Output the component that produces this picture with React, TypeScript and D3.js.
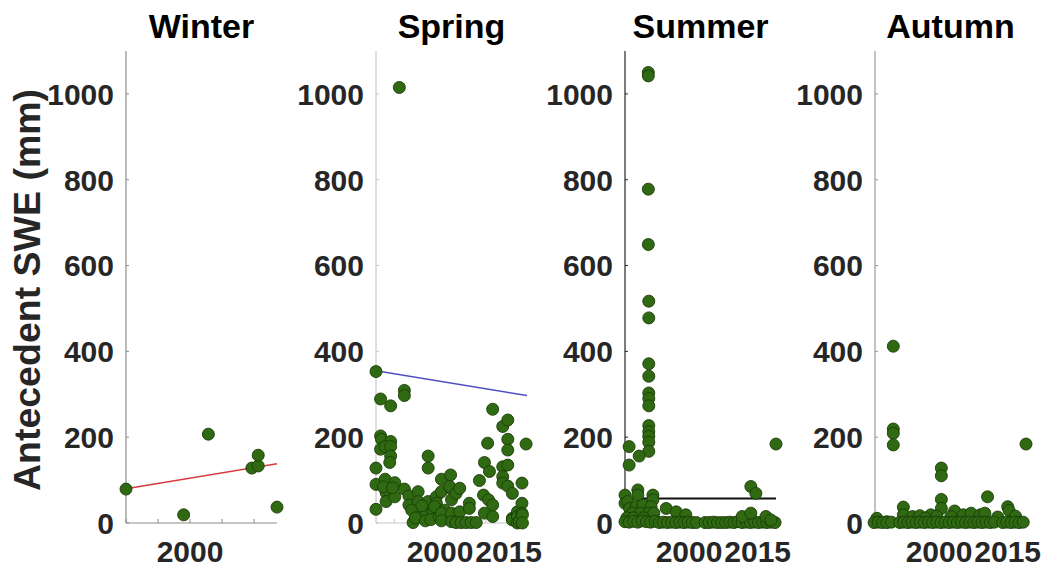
import React from 'react'
import * as d3 from 'd3'

// [year, antecedent SWE in mm]
const winterData: [number, number][] = [
  [1986.0, 79], [1998.6, 19], [2004.0, 207], [2013.5, 128], [2014.9, 133], [2014.9, 158], [2019.0, 37],
]
const winterTrend: [number, number][] = [[1986, 80], [2019, 138]]

const springData: [number, number][] = [
  [1986.0, 353], [1987.0, 289], [1989.2, 273], [1992.2, 309], [1992.2, 297], [1991.1, 1015],
  [1987.0, 203], [1987.2, 195], [1989.2, 190], [1987.0, 172], [1988.0, 178], [1989.2, 178], [1989.2, 156], [1989.0, 141],
  [1986.0, 128], [1986.0, 90], [1986.0, 32], [1988.0, 102], [1990.1, 94], [1988.2, 71], [1988.2, 50], [1990.1, 61],
  [1987.6, 84], [1989.6, 82], [1992.2, 79], [1993.2, 63], [1993.2, 42], [1995.2, 73], [1995.2, 50], [1995.2, 21],
  [1994.1, 1], [1996.3, 11], [1997.0, 23], [1997.4, 156], [1997.4, 128], [1997.4, 50], [1998.5, 26], [1999.2, 61], [1999.2, 46],
  [1993.8, 30], [1994.6, 12], [1996.0, 40], [1996.8, 5], [1998.0, 8], [1998.8, 38], [1999.8, 14], [2001.0, 30], [2001.6, 10],
  [2000.3, 102], [2000.3, 73], [2000.3, 23], [2000.3, 5], [2002.3, 112], [2002.3, 81], [2002.5, 54], [2002.5, 23], [2002.5, 3],
  [2002.1, 85], [2003.5, 69], [2004.3, 81], [2004.3, 26], [2006.4, 46], [2006.4, 34],
  [2003.5, 1], [2004.6, 1], [2005.7, 1], [2006.8, 1], [2007.9, 1],
  [2008.6, 99], [2009.7, 141], [2010.8, 120], [2010.4, 186], [2011.5, 265], [2009.5, 65], [2010.6, 54], [2011.5, 42], [2009.7, 23], [2011.5, 15],
  [2013.7, 225], [2014.8, 240], [2014.8, 195], [2014.8, 170], [2013.7, 131], [2014.8, 135], [2013.7, 108], [2013.7, 93], [2014.8, 86],
  [2015.8, 69], [2015.8, 11], [2015.8, 7], [2016.9, 26], [2016.9, 15], [2016.9, 0], [2017.3, 3],
  [2017.9, 93], [2017.9, 46], [2017.9, 23], [2018.0, 19], [2018.0, 0], [2018.8, 184],
]
const springTrend: [number, number][] = [[1986, 355], [2019, 297]]

const summerData: [number, number][] = [
  [1991.1, 1050], [1991.1, 1042], [1991.1, 778], [1991.1, 649], [1991.2, 517], [1991.2, 478], [1991.2, 371], [1991.2, 342],
  [1991.2, 303], [1991.2, 290], [1991.2, 273], [1991.2, 227], [1991.2, 213], [1991.2, 202], [1991.2, 188], [1991.2, 167],
  [1986.9, 178], [1986.9, 135], [1989.1, 156],
  [1986.0, 65], [1986.0, 46], [1986.6, 50], [1988.8, 77], [1988.8, 65], [1992.1, 65], [1992.1, 54],
  [1987.0, 34], [1988.5, 38], [1989.9, 42], [1991.7, 38],
  [1987.6, 23], [1989.4, 23], [1991.2, 23], [1992.3, 23],
  [1995.0, 34], [1997.2, 26], [1999.3, 19], [1986.4, 12], [1987.8, 12], [1990.0, 12],
  [1986.0, 3], [1986.9, 2], [1987.9, 4], [1988.8, 2], [1989.8, 5], [1990.7, 3], [1991.6, 2], [1992.6, 4], [1993.5, 1],
  [1994.4, 2], [1995.3, 1], [1996.2, 2], [1997.1, 1], [1998.0, 2], [1998.9, 1], [1999.8, 2], [2000.7, 1], [2001.6, 1],
  [2003.5, 1], [2004.4, 1], [2005.3, 2], [2006.2, 1], [2007.1, 1], [2008.0, 1], [2008.9, 2], [2009.8, 1], [2010.7, 3],
  [2011.6, 1], [2012.5, 2], [2013.4, 1], [2014.3, 2], [2015.2, 1], [2016.1, 2], [2017.0, 1], [2017.9, 2], [2018.8, 1],
  [2013.5, 85], [2014.6, 69], [2011.6, 15], [2013.5, 23], [2016.8, 15], [2017.9, 7],
  [2019.0, 184],
]
const summerTrend: [number, number][] = [[1986, 57], [2019, 57]]

const autumnData: [number, number][] = [
  [1990.0, 412], [1990.0, 219], [1990.0, 209], [1990.0, 182],
  [2000.5, 128], [2000.5, 110], [2000.5, 55], [2000.5, 34],
  [2010.6, 61], [2019.0, 184],
  [1992.2, 37], [1992.2, 19], [2003.4, 28], [2015.0, 38], [2015.3, 29], [2016.7, 16],
  [1986.4, 11], [1988.6, 3], [1998.2, 19], [1999.5, 16], [2005.3, 19], [2007.0, 23], [2002.6, 15],
  [1994.2, 15], [1995.8, 17], [1997.0, 12], [2012.8, 14], [2009.0, 19], [2010.0, 23],
  [1985.8, 1], [1986.7, 2], [1987.6, 1], [1988.6, 1], [1989.6, 2],
  [1991.4, 1], [1992.3, 2], [1993.2, 1], [1994.1, 2], [1995.0, 1], [1995.9, 2], [1996.8, 1], [1997.7, 2], [1998.6, 1],
  [1999.5, 2], [2000.4, 1], [2001.3, 2], [2002.2, 1], [2003.1, 2], [2004.0, 1], [2004.9, 2], [2005.8, 1], [2006.7, 2],
  [2007.6, 1], [2008.5, 2], [2009.4, 1], [2010.3, 2], [2011.2, 1], [2012.1, 2], [2013.9, 1], [2014.8, 2], [2015.7, 1],
  [2016.6, 2], [2017.5, 1], [2018.4, 2],
]
const autumnTrend: [number, number][] = [[1986, 1], [2019, 1]]

const seasonNames = ['Winter', 'Spring', 'Summer', 'Autumn']
const yTickValues = [0, 200, 400, 600, 800, 1000]
const winterXTicks = [1986, 1993, 2000, 2007, 2014]
const springXTicks = [1990, 2010]
const winterXLabels = [2000]
const otherXLabels = [2000, 2015]

const FONT = '"Liberation Sans", Arial, Helvetica, sans-serif'
const W = 1050
const H = 571
const panelLeft = [126, 376, 625, 875]
const panelW = 151
const top = 51
const bottom = 523

const panels = [
  { data: winterData, trend: winterTrend, trendColor: '#d63a3f', trendWidth: 1.5, axisColor: '#8c8c8c', ticks: winterXTicks, labels: winterXLabels },
  { data: springData, trend: springTrend, trendColor: '#4f4fc4', trendWidth: 1.5, axisColor: '#c8c8c8', ticks: springXTicks, labels: otherXLabels },
  { data: summerData, trend: summerTrend, trendColor: '#111111', trendWidth: 2, axisColor: '#262626', ticks: [] as number[], labels: otherXLabels },
  { data: autumnData, trend: autumnTrend, trendColor: '#1f3bb5', trendWidth: 2, axisColor: '#9a9a9a', ticks: [] as number[], labels: otherXLabels },
]

function Panel({ idx }: { idx: number }) {
  const p = panels[idx]
  const x0 = panelLeft[idx]
  const x = d3.scaleLinear().domain([1986, 2019]).range([x0, x0 + panelW])
  const y = d3.scaleLinear().domain([0, 1100]).range([bottom, top])
  const line = d3.line<[number, number]>().x(d => x(d[0])).y(d => y(d[1]))

  return (
    <g>
      <text x={x0 + panelW / 2} y={38} textAnchor="middle" fontSize={34} fontWeight="bold" fill="#000">
        {seasonNames[idx]}
      </text>
      {/* axes */}
      <line x1={x0} x2={x0} y1={top} y2={bottom} stroke={p.axisColor} strokeWidth={1.2} />
      <line x1={x0} x2={x0 + panelW} y1={bottom} y2={bottom} stroke={p.axisColor} strokeWidth={1.2} />
      {yTickValues.map(v => (
        <g key={v}>
          <line x1={x0} x2={x0 + 3} y1={y(v)} y2={y(v)} stroke={p.axisColor} />
          <text x={x0 - 12} y={y(v)} dy="0.36em" textAnchor="end" fontSize={30} fontWeight="bold" fill="#262626">
            {v}
          </text>
        </g>
      ))}
      {p.ticks.map(t => (
        <line key={t} x1={x(t)} x2={x(t)} y1={bottom} y2={bottom - 4} stroke={p.axisColor} />
      ))}
      {p.labels.map(t => (
        <text key={t} x={x(t)} y={562} textAnchor="middle" fontSize={30} fontWeight="bold" fill="#262626">
          {t}
        </text>
      ))}
      {/* trend line drawn under the markers */}
      <path d={line(p.trend) || ''} fill="none" stroke={p.trendColor} strokeWidth={p.trendWidth} />
      {p.data.map((d, i) => (
        <circle key={i} cx={x(d[0])} cy={y(d[1])} r={6} fill="#2f6a12" stroke="#1b3c08" strokeWidth={0.9} />
      ))}
    </g>
  )
}

export default function App() {
  return (
    <svg width={W} height={H} style={{ position: 'absolute', left: 0, top: 0, background: '#fff' }} fontFamily={FONT}>
      <rect width={W} height={H} fill="#fff" />
      <text transform="translate(40,290) rotate(-90)" textAnchor="middle" fontSize={37.5} fontWeight="bold" fill="#262626">
        Antecedent SWE (mm)
      </text>
      {panels.map((_, i) => <Panel key={i} idx={i} />)}
    </svg>
  )
}
